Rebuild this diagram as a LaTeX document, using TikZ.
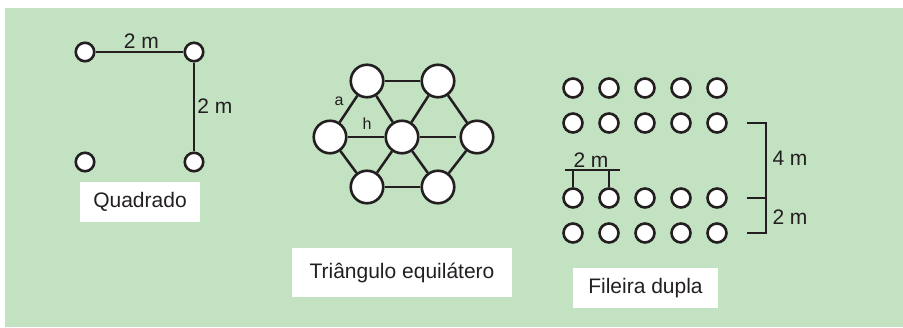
\documentclass[tikz,border=0pt]{standalone}
\usepackage{fontspec}
\setmainfont{Liberation Sans}
\definecolor{bg}{HTML}{C3E2C2}
\definecolor{ink}{HTML}{231F20}
\begin{document}
\begin{tikzpicture}[x=1pt,y=-1pt,
 tree/.style={circle,draw=ink,fill=white,line width=2.6pt,inner sep=0pt},
 sq/.style={tree,minimum size=18.5pt},
 big/.style={tree,minimum size=32.5pt},
 sm/.style={tree,minimum size=19pt},
 link/.style={draw=ink,line width=2.5pt},
 lbl/.style={fill=white,inner sep=0pt,font=\fontsize{21}{25}\selectfont,text=ink},
 dim/.style={font=\fontsize{21}{25}\selectfont,text=ink,inner sep=0pt},
 tiny/.style={font=\fontsize{16}{18}\selectfont,text=ink,inner sep=0pt}]
\useasboundingbox (0,0) rectangle (903,328);
\fill[bg] (5,8) rectangle (903,327);
% Quadrado
\node[sq] (qa) at (85,52) {};
\node[sq] (qb) at (194,52) {};
\node[sq] (qc) at (85,162) {};
\node[sq] (qd) at (194,162) {};
\draw[link] (qa) -- (qb);
\draw[link] (qb) -- (qd);
\node[dim] (q2a) at (141.5,41.5) {2 m};
\node[dim] (q2b) at (215,106.5) {2 m};
\node[lbl,minimum width=120pt,minimum height=40pt] (lq) at (140,202) {Quadrado};
% Triangulo
\node[big] (tl) at (367,81) {};
\node[big] (tr) at (438,81) {};
\node[big] (ml) at (330,137) {};
\node[big] (mc) at (402,137) {};
\node[big] (mr) at (477,137) {};
\node[big] (bl) at (367,187) {};
\node[big] (br) at (438,187) {};
\draw[link] (tl) -- (tr);
\draw[link] (bl) -- (br);
\draw[link] (ml) -- (mc);
\draw[link,shorten >=3pt] (mc) -- (mr);
\draw[link] (tl) -- (ml);
\draw[link] (tr) -- (mr);
\draw[link] (ml) -- (bl);
\draw[link] (mr) -- (br);
\draw[link] (tl) -- (mc);
\draw[link] (tr) -- (mc);
\draw[link] (bl) -- (mc);
\draw[link] (br) -- (mc);
\node[tiny] (ta) at (339,101.5) {a};
\node[tiny] (th) at (367,124) {h};
\node[lbl,minimum width=220pt,minimum height=49pt] (lt) at (402,272.5) {Triângulo equilátero};
% Fileira dupla
\foreach \r/\y in {1/88,2/123,3/198,4/233}{
  \foreach \i in {1,...,5}{
    \node[sm] (f\r\i) at ({573+(\i-1)*36},\y) {};
  }
}
\coordinate (b1) at (565,170);
\coordinate (b2) at (620,170);
\draw[link] (b1) -- (b2);
\draw[link] (f31.north |- b1) -- (f31.north);
\draw[link] (f32.north |- b1) -- (f32.north);
\node[dim] (f2m) at (591,160.5) {2 m};
\path (f25) ++(30,0) coordinate (t2a) ++(19,0) coordinate (t2b);
\path (f35) ++(30,0) coordinate (t3a) ++(19,0) coordinate (t3b);
\path (f45) ++(30,0) coordinate (t4a) ++(19,0) coordinate (t4b);
\draw[link] (t2a) -- (t2b) -- (t4b) -- (t4a);
\draw[link] (t3a) -- (t3b);
\node[dim] (d4) at (790,158.5) {4 m};
\node[dim] (d2) at (790,217) {2 m};
\node[lbl,minimum width=145pt,minimum height=40pt] (lf) at (645.5,288) {Fileira dupla};
\end{tikzpicture}
\end{document}
